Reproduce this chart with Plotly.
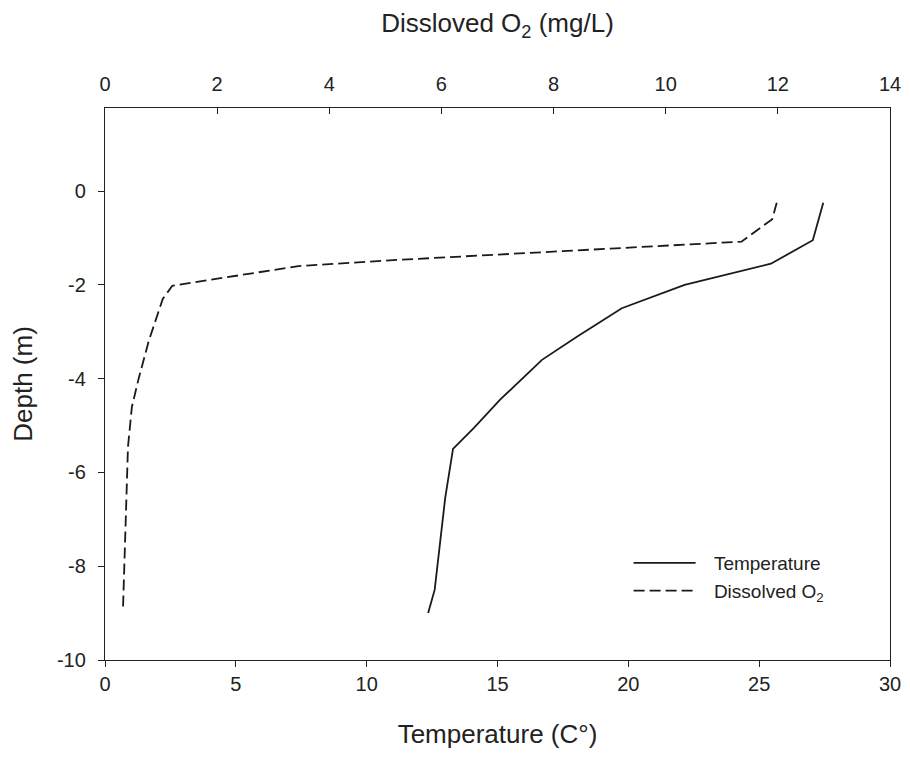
import plotly.graph_objects as go

temp_depth = [-0.25, -1.05, -1.55, -2.0, -2.5, -3.1, -3.6, -4.45, -5.05, -5.5, -6.55, -8.1, -8.5, -9.0]
temp_vals = [27.45, 27.05, 25.45, 22.15, 19.75, 18.05, 16.7, 15.1, 14.1, 13.3, 13.0, 12.7, 12.6, 12.35]

do_depth = [-0.25, -0.6, -1.08, -1.47, -1.6, -2.02, -2.3, -3.2, -4.0, -4.6, -5.45, -8.0, -8.95]
do_vals = [11.98, 11.9, 11.35, 5.2, 3.45, 1.2, 1.03, 0.78, 0.6, 0.48, 0.41, 0.35, 0.32]

bottom_ticks = [0, 5, 10, 15, 20, 25, 30]
top_ticks = [0, 2, 4, 6, 8, 10, 12, 14]
y_ticks = [-10, -8, -6, -4, -2, 0]

FONT = "Liberation Sans, Arial, sans-serif"
GAP = "\u2002\u2009"

fig = go.Figure()
fig.add_trace(go.Scatter(x=temp_vals, y=temp_depth, mode="lines", name=GAP + "Temperature",
                         line=dict(color="#1a1a1a", width=1.8), xaxis="x"))
fig.add_trace(go.Scatter(x=do_vals, y=do_depth, mode="lines", name=GAP + "Dissolved O<sub>2</sub>",
                         line=dict(color="#1a1a1a", width=1.8, dash="11px,5px"), xaxis="x2"))

axis_common = dict(showgrid=False, zeroline=False, linecolor="#222", linewidth=1.4,
                   tickcolor="#222", ticklen=6, automargin=False,
                   tickfont=dict(size=20, family=FONT, color="#222"))

fig.update_layout(
    width=894, height=745,
    margin=dict(l=97, r=12, t=100, b=93),
    paper_bgcolor="white", plot_bgcolor="white",
    font=dict(family=FONT, color="#222"),
    xaxis=dict(range=[0, 30], tickvals=bottom_ticks, ticks="outside", showline=True,
               ticklabeloverflow="allow",
               title=dict(text="Temperature (C°)", font=dict(size=26, family=FONT), standoff=30),
               **axis_common),
    xaxis2=dict(range=[0, 14], tickvals=top_ticks, ticks="inside", showline=True,
                overlaying="x", side="top", anchor="y", ticklabelstandoff=8,
                ticklabeloverflow="allow",
                title=dict(text="Dissloved O<sub>2</sub> (mg/L)", font=dict(size=26, family=FONT), standoff=32),
                **axis_common),
    yaxis=dict(range=[-10, 1.77], tickvals=y_ticks, ticktext=[str(v) for v in y_ticks],
               ticks="outside", showline=True, mirror=True, ticklabelstandoff=8,
               title=dict(text="Depth (m)", font=dict(size=26, family=FONT), standoff=16),
               **axis_common),
    legend=dict(x=0.667, y=0.21, xanchor="left", yanchor="top", bgcolor="rgba(0,0,0,0)",
                font=dict(size=19, family=FONT, color="#222"), itemwidth=62, tracegroupgap=0),
    showlegend=True,
)

fig.write_html("out.html")
